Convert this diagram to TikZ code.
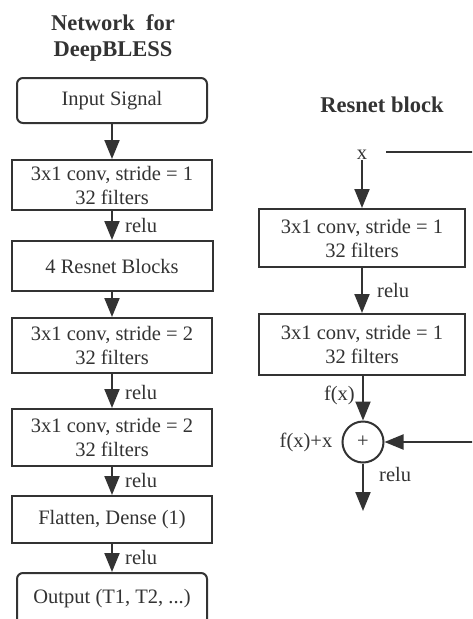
\documentclass[tikz,border=0pt]{standalone}
\usepackage{fontspec}
\setmainfont{Liberation Serif}
\usetikzlibrary{arrows.meta}
\definecolor{ink}{HTML}{333333}
\tikzset{
  base/.style={font=\fontsize{20.5}{24}\selectfont, text=ink},
  blk/.style={base, draw=ink, line width=2pt, align=center, inner sep=0pt},
  rblk/.style={blk, rounded corners=6pt},
  lbl/.style={base, inner sep=0pt},
  ttl/.style={font=\fontsize{22.5}{26}\selectfont\bfseries, text=ink, align=center, inner sep=0pt},
  flow/.style={draw=ink, line width=2pt, -{Triangle[width=15pt,length=19pt]}},
  wire/.style={draw=ink, line width=2pt},
}
\begin{document}
\begin{tikzpicture}[x=1pt,y=-1pt]
\useasboundingbox (0,0) rectangle (472,619);
\clip (0,0) rectangle (472,619);
\fill[white] (0,0) rectangle (472,619);

% main network column
\node[ttl] (t1) at (113,38) {Network\ \ for\\DeepBLESS};
\node[rblk, minimum width=190pt, minimum height=45pt] (inp) at (112,100.5) {Input Signal};
\node[blk, minimum width=200pt, minimum height=50pt] (c1) at (112,185) {3x1 conv, stride = 1\\32 filters};
\node[blk, minimum width=201pt, minimum height=50pt] (rb) at (112,266) {4 Resnet Blocks};
\node[blk, minimum width=200pt, minimum height=55pt] (c2) at (112,345.5) {3x1 conv, stride = 2\\32 filters};
\node[blk, minimum width=200pt, minimum height=57pt] (c3) at (112,437.5) {3x1 conv, stride = 2\\32 filters};
\node[blk, minimum width=200pt, minimum height=47pt] (fl) at (112,519.5) {Flatten, Dense (1)};
\node[rblk, minimum width=190pt, minimum height=52pt] (out) at (112,599) {Output (T1, T2, ...)};

\draw[flow] (inp) -- (c1);
\draw[flow] (c1) -- (rb);
\draw[flow] (rb) -- (c2);
\draw[flow] (c2) -- (c3);
\draw[flow] (c3) -- (fl);
\draw[flow] (fl) -- (out);

\node[lbl, anchor=west] (l1) at (125,225) {relu};
\node[lbl, anchor=west] (l2) at (125,392) {relu};
\node[lbl, anchor=west] (l3) at (125,480) {relu};
\node[lbl, anchor=west] (l4) at (125,557) {relu};

% residual block
\node[ttl] (t2) at (382,105) {Resnet block};
\node[lbl] (xin) at (362,155) {x};
\coordinate (xr) at (386,152);
\coordinate (xe) at (480,152);
\node[blk, minimum width=206pt, minimum height=58pt] (r1) at (362,238) {3x1 conv, stride = 1\\32 filters};
\node[blk, minimum width=206pt, minimum height=61pt] (r2) at (362,344.5) {3x1 conv, stride = 1\\32 filters};
\node[base, draw=ink, line width=2pt, circle, minimum size=41pt, inner sep=0pt] (sum) at (363,442) {+};
\coordinate (se) at (480,442);
\coordinate (dn) at (363,511);

\draw[wire] (xr) -- (xe);
\draw[flow] (xin) -- (r1);
\draw[flow] (r1) -- (r2);
\draw[flow] (r2.south -| sum) -- (sum);
\draw[flow] (se) -- (sum);
\draw[flow] (sum) -- (dn);

\node[lbl, anchor=west] (l5) at (377,290) {relu};
\node[lbl, anchor=east] (fx) at (355,395) {f(x)};
\node[lbl] (fxx) at (306,442) {f(x)+x};
\node[lbl, anchor=west] (l6) at (379,474) {relu};
\end{tikzpicture}
\end{document}
